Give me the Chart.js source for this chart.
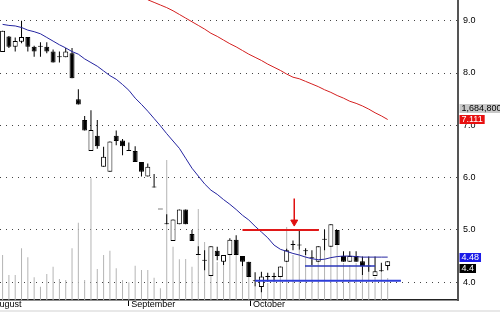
<!DOCTYPE html>
<html><head><meta charset="utf-8">
<script src="https://cdn.jsdelivr.net/npm/chart.js@4/dist/chart.umd.min.js"></script>
<style>
html,body{margin:0;padding:0;background:#fff;overflow:hidden;}
#wrap{width:500px;height:310px;position:relative;}
#strip{width:500px;height:2px;background:#e8e8e8;}
</style></head><body>
<div id="wrap"><canvas id="c" width="500" height="310"></canvas></div>
<div id="strip"></div>
<script>
// ---- data (one entry per trading day) ----
const opens  = [8.40,8.70,8.50,8.60,8.69,8.50,8.50,8.50,8.41,8.30,8.30,8.38,7.50,7.10,6.51,6.80,6.21,6.11,6.80,6.71,6.51,6.51,6.30,6.02,5.81,5.39,5.11,4.79,5.11,5.39,4.92,4.52,4.41,4.12,4.60,4.39,4.52,4.81,4.50,4.39,4.02,3.91,4.10,4.10,4.10,4.39,4.71,4.70,4.59,4.46,4.39,4.81,4.68,5.00,4.50,4.39,4.50,4.40,4.30,4.12,4.21,4.31];
const highs  = [8.81,8.71,8.68,9.00,8.69,8.52,8.59,8.59,8.45,8.41,8.48,8.48,7.69,7.18,7.29,7.10,6.59,6.69,6.90,6.74,6.67,6.60,6.30,6.27,6.07,5.39,5.30,5.20,5.39,5.39,5.00,4.69,4.61,4.69,4.68,4.52,4.84,4.90,4.50,4.39,4.19,4.20,4.18,4.18,4.30,4.64,4.80,4.98,4.65,4.61,4.69,5.00,5.11,5.00,4.59,4.59,4.59,4.49,4.49,4.49,4.37,4.40];
const lows   = [8.40,8.48,8.41,8.57,8.41,8.31,8.31,8.38,8.20,8.20,8.30,7.90,7.40,6.90,6.51,6.55,6.21,6.11,6.62,6.43,6.51,6.30,6.02,6.02,5.81,5.39,5.11,4.79,5.11,5.11,4.79,4.52,4.23,4.12,4.42,4.33,4.52,4.52,4.31,4.10,3.92,3.81,4.01,4.01,4.10,4.39,4.61,4.62,4.52,4.33,4.39,4.61,4.68,4.71,4.39,4.39,4.39,4.14,4.20,4.12,4.20,4.23];
const closes = [8.81,8.50,8.61,8.69,8.50,8.41,8.50,8.41,8.20,8.30,8.41,7.90,7.40,6.90,6.91,6.60,6.40,6.69,6.70,6.60,6.51,6.30,6.11,6.21,5.81,5.39,5.11,5.20,5.39,5.11,4.79,4.52,4.41,4.69,4.50,4.52,4.81,4.52,4.39,4.10,4.02,4.11,4.10,4.10,4.30,4.61,4.71,4.70,4.59,4.46,4.69,4.81,5.11,4.71,4.39,4.50,4.39,4.31,4.30,4.21,4.21,4.40];
// volume in thousands of shares
const volumes = [395,219,219,454,375,199,117,228,292,184,176,454,678,176,1068,272,395,433,278,176,155,301,263,263,196,103,1229,468,357,360,292,799,509,307,333,333,395,395,333,202,114,105,149,158,202,641,395,439,439,351,351,544,483,500,325,307,325,219,307,202,246,193];
// moving averages (blue short, red long)
const maShort = [8.93,8.91,8.90,8.87,8.82,8.79,8.75,8.68,8.61,8.54,8.48,8.41,8.36,8.27,8.20,8.13,8.04,7.95,7.88,7.78,7.67,7.52,7.40,7.27,7.13,6.99,6.84,6.70,6.56,6.37,6.18,6.03,5.88,5.76,5.68,5.58,5.49,5.39,5.28,5.19,5.07,4.96,4.85,4.71,4.63,4.59,4.55,4.52,4.48,4.45,4.43,4.44,4.47,4.49,4.50,4.50,4.49,4.48,4.48,4.48,4.48,4.48];
const maLong = [null,null,null,null,null,null,null,null,null,null,null,null,null,null,null,null,null,null,null,null,null,null,null,9.40,9.35,9.30,9.25,9.19,9.12,9.05,8.98,8.91,8.84,8.76,8.70,8.63,8.56,8.50,8.43,8.36,8.30,8.24,8.17,8.11,8.05,7.98,7.92,7.89,7.84,7.79,7.74,7.68,7.63,7.57,7.52,7.46,7.42,7.37,7.31,7.24,7.18,7.111];
// axis labels
const priceTicks = [4,5,6,7,8,9];
const monthNames = ['August','September','October'];
const monthStartIndex = [-1.9, 19.9, 39.2];
// drawn-in trend lines: [fromIndex, toIndex], price
const resistanceRange = [38, 50.1];  const resistancePrice = 5.0;
const supportRange = [40, 63.1];     const supportPrice = 4.03;
const innerSupportRange = [47.9, 59]; const innerSupportPrice = 4.31;
const arrowIndex = 46.2; const arrowPrices = [5.60, 5.15];
// last-value labels on the price axis
const lastValueTexts = ['1,684,800', '7.111', '4.48', '4.4'];
const lastValueNumbers = [1684.8, 7.111, 4.48, 4.4];

const idx = closes.map((_, i) => i);
const FONT = 'Liberation Sans, Arial, sans-serif';

const lastValuePlugin = {
  id: 'lastValues',
  afterDraw(chart) {
    const ctx = chart.ctx;
    const ys = chart.scales.y, yv = chart.scales.yv;
    const styles = [
      {bg:'#c8c8c8', fg:'#000', axis: yv},
      {bg:'#e81010', fg:'#fff', axis: ys},
      {bg:'#1c1ce8', fg:'#fff', axis: ys},
      {bg:'#000000', fg:'#fff', axis: ys}
    ];
    const items = lastValueTexts.map((t, k) => ({t, st: styles[k], y: styles[k].axis.getPixelForValue(lastValueNumbers[k])}));
    const sorted = items.slice().sort((a, b) => a.y - b.y);
    const h = 9, gap = 11.3;
    for (let k = 1; k < sorted.length; k++) {
      if (sorted[k].y < sorted[k-1].y + gap) sorted[k].y = sorted[k-1].y + gap;
    }
    ctx.save();
    ctx.font = '9px ' + FONT;
    ctx.textBaseline = 'middle';
    const x0 = chart.chartArea.right + 1.5;
    items.forEach(it => {
      const w = ctx.measureText(it.t).width + 4;
      ctx.fillStyle = it.st.bg;
      ctx.fillRect(x0, Math.round(it.y - h/2), w, h);
      ctx.fillStyle = it.st.fg;
      ctx.fillText(it.t, x0 + 2, Math.round(it.y - h/2) + h/2 + 0.5);
    });
    ctx.restore();
  }
};

new Chart(document.getElementById('c'), {
  type: 'bar',
  data: {
    datasets: [
      {type:'line', data:[{x:arrowIndex,y:arrowPrices[0]},{x:arrowIndex,y:arrowPrices[1]}], borderColor:'#e01010', borderWidth:1.5,
       pointRadius:[0,4], pointStyle:'triangle', rotation:180, pointBackgroundColor:'#e01010', pointBorderColor:'#e01010', pointBorderWidth:1, order:1},
      {type:'line', data:[{x:resistanceRange[0],y:resistancePrice},{x:resistanceRange[1],y:resistancePrice}], borderColor:'#e01818', borderWidth:2, pointRadius:0, order:1},
      {type:'line', data:[{x:supportRange[0],y:supportPrice},{x:supportRange[1],y:supportPrice}], borderColor:'#2c3cd8', borderWidth:2, pointRadius:0, order:1},
      {type:'line', data:[{x:innerSupportRange[0],y:innerSupportPrice},{x:innerSupportRange[1],y:innerSupportPrice}], borderColor:'#2a36b8', borderWidth:1.5, pointRadius:0, order:1},
      {type:'line', data: idx.map(i => ({x:i, y:maShort[i]})), borderColor:'#2424a0', borderWidth:1, pointRadius:0, tension:0, order:2},
      {type:'line', data: idx.map(i => ({x:i, y:maLong[i]})), borderColor:'#d42020', borderWidth:1, pointRadius:0, tension:0, order:2},
      {type:'bar', data: idx.map(i => ({x:i, y:[opens[i], closes[i]]})),
       backgroundColor: idx.map(i => closes[i] > opens[i] ? '#ffffff' : '#000000'),
       borderColor:'#000', borderWidth:1, borderSkipped:false, barThickness:5, minBarLength:1, inflateAmount:0, order:4},
      {type:'bar', data: idx.map(i => ({x:i, y:[lows[i], highs[i]]})), backgroundColor:'#000', barThickness:1, inflateAmount:0, order:5},
      {type:'bar', yAxisID:'yv', data: idx.map(i => ({x:i, y:volumes[i]})), backgroundColor:'#b4b4b4', barThickness:1, inflateAmount:0, order:10}
    ]
  },
  options: {
    responsive:false, animation:false, devicePixelRatio:1,
    layout:{padding:0, autoPadding:false},
    datasets:{bar:{grouped:false}},
    plugins:{legend:{display:false}, tooltip:{enabled:false}},
    scales:{
      x:{type:'linear', min:-0.41, max:72.14, offset:false,
        afterBuildTicks: s => { s.ticks = monthStartIndex.map(v => ({value:v})); },
        afterFit: s => { s.height = 10; s.paddingLeft = 0; s.paddingRight = 0; },
        ticks:{autoSkip:false, maxRotation:0, minRotation:0, align:'start', labelOffset:3, padding:-7,
          font:{family:FONT, size:9}, color:'#000', callback:(v, i) => monthNames[i]},
        grid:{offset:false, drawOnChartArea:false, drawTicks:true, tickLength:6, color:'#000', lineWidth:1},
        border:{display:true, color:'#222', width:1.5}
      },
      y:{type:'linear', position:'right', min:3.66, max:9.396, beginAtZero:false,
        afterBuildTicks: s => { s.ticks = priceTicks.map(v => ({value:v})); },
        afterFit: s => { s.width = 42; s.paddingTop = 0; s.paddingBottom = 0; },
        ticks:{padding:5, font:{family:FONT, size:9}, color:'#000', callback: v => Number(v).toFixed(1)},
        grid:{drawTicks:false, color:'#444', lineWidth:1},
        border:{display:true, color:'#555', width:2, dash:[1,5]}
      },
      yv:{type:'linear', display:false, min:0, max:2632.5, beginAtZero:true}
    }
  },
  plugins:[lastValuePlugin]
});
</script>
</body></html>
